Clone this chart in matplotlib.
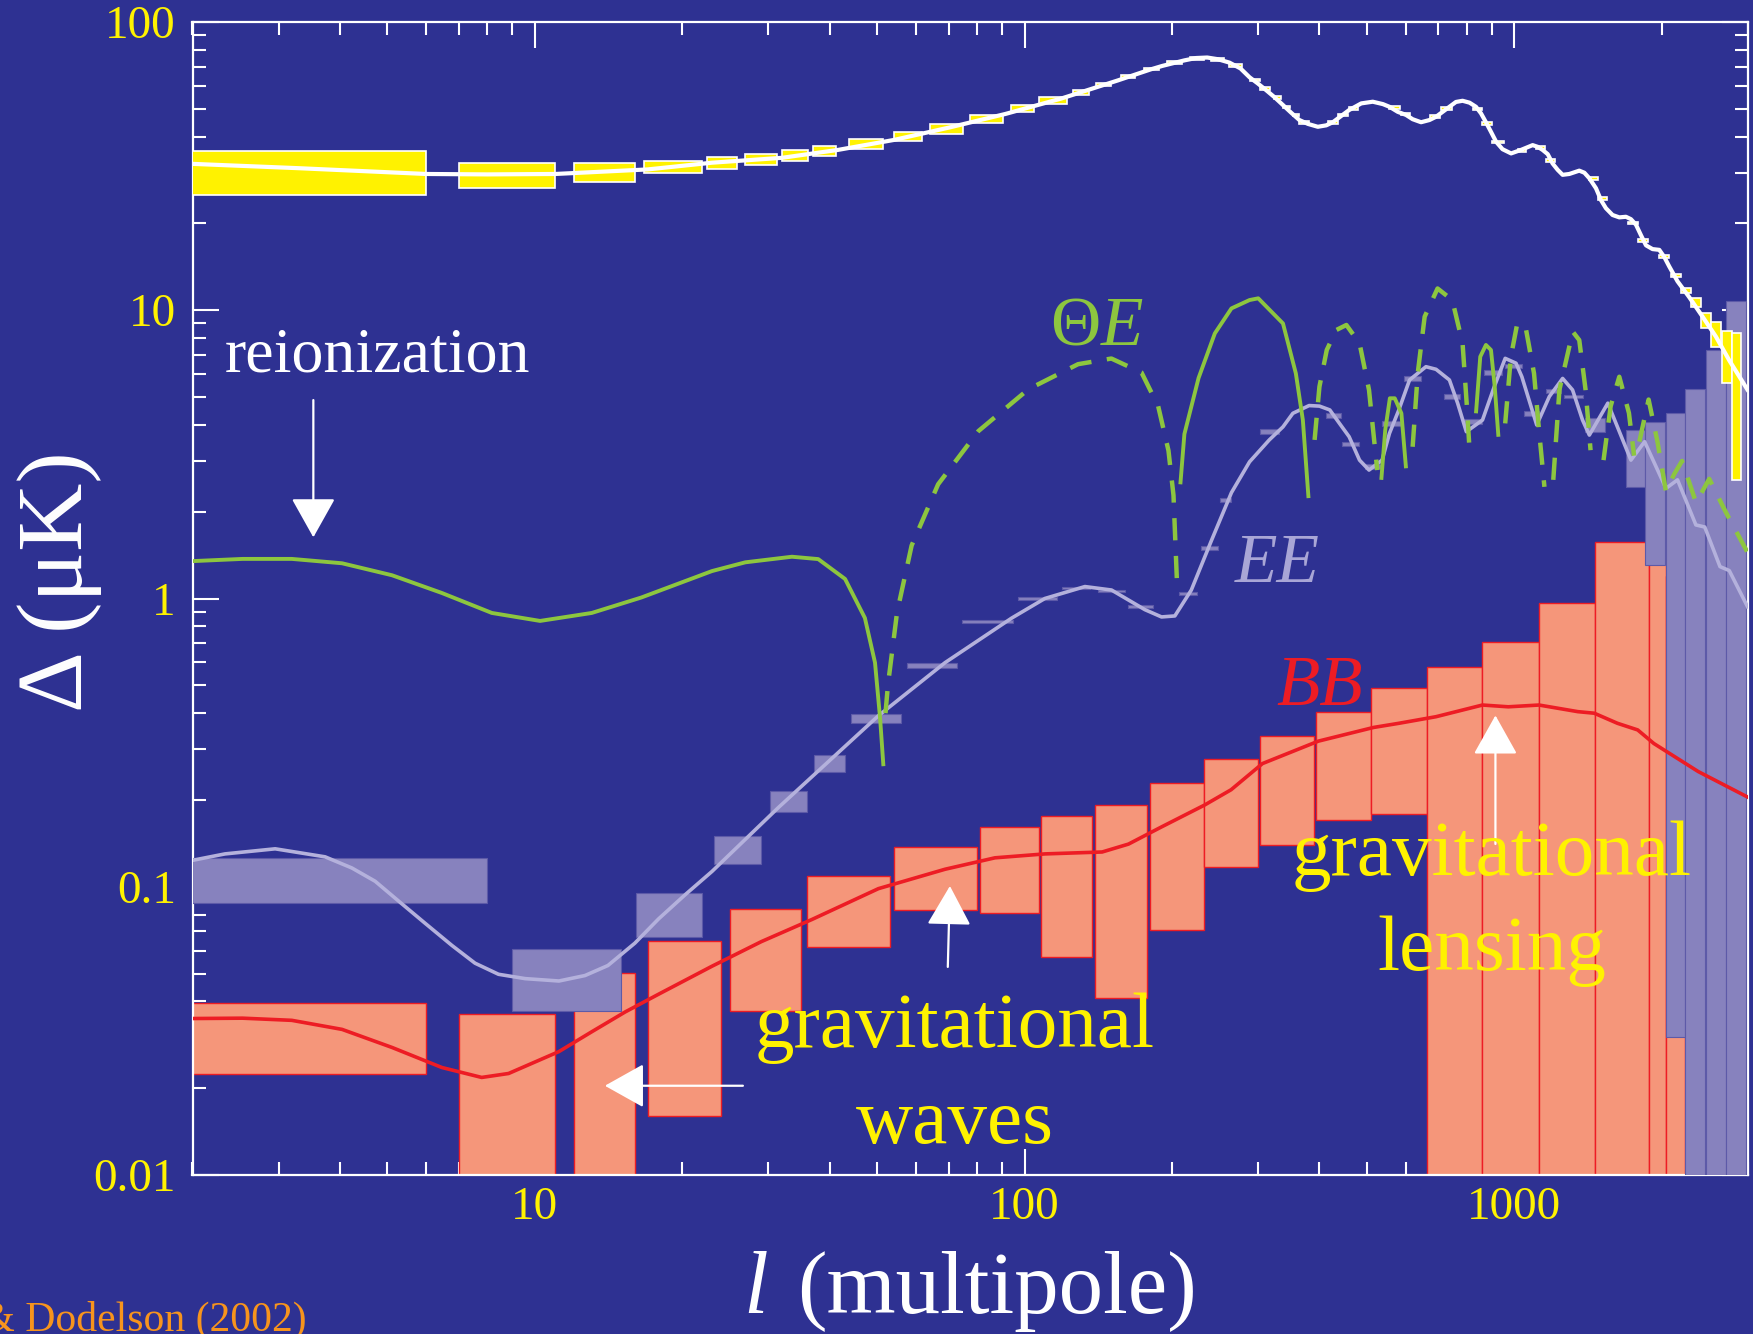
import matplotlib
matplotlib.use("Agg")
import matplotlib.pyplot as plt
from matplotlib.ticker import FixedLocator, FixedFormatter, LogLocator, NullFormatter

# ------------------------------------------------------------------ data
# TT (temperature) curve: multipole l, amplitude Delta (muK)
tt_l = [2.0, 3.3, 6.0, 8.0, 11, 17, 23, 32, 41.6, 54.2, 70.4, 91.5, 119, 155, 181, 191, 212,
        224, 236, 248, 262, 276, 288, 299, 311, 324, 337, 350, 364, 379, 397, 413, 426, 443,
        460, 487, 514, 539, 556, 578, 601, 620, 645, 671, 692, 714, 737, 760, 784, 810, 835,
        855, 875, 896, 918, 946, 985, 1032, 1090, 1116, 1142, 1170, 1197, 1226, 1255, 1295,
        1357, 1390, 1423, 1468, 1503, 1538, 1587, 1638, 1690, 1730, 1772, 1814, 1857, 1915,
        1977, 2024, 2071, 2154, 2276, 2423, 2580, 2747, 2993]
tt_D = [32.2, 31.1, 29.7, 29.6, 29.7, 30.8, 32.5, 33.8, 36.0, 39.0, 43.1, 48.0, 54.3, 62.7,
        68.5, 70.4, 73.6, 75.0, 75.3, 74.3, 72.3, 69.0, 64.3, 61.3, 58.1, 54.8, 51.5, 48.5,
        45.7, 44.3, 43.3, 43.8, 44.9, 47.2, 49.5, 52.2, 52.9, 51.9, 50.8, 48.8, 47.6, 46.0,
        44.9, 45.7, 46.9, 48.8, 50.8, 52.8, 53.3, 52.5, 50.8, 48.2, 44.9, 41.6, 38.4, 36.2,
        35.0, 36.0, 37.4, 36.9, 36.0, 34.8, 32.3, 30.7, 29.5, 29.7, 30.5, 30.0, 28.7, 26.5,
        24.1, 22.6, 21.4, 21.0, 21.1, 20.7, 19.8, 18.2, 16.8, 16.3, 16.2, 15.3, 14.2, 12.6,
        11.1, 9.5, 8.1, 6.7, 5.3]

# TT error boxes
tt_box_lo_l = [2, 7, 12, 16.7, 22.5, 26.8, 32.0, 36.9, 43.9, 54.2, 64.0, 77.4, 93.9, 107.1,
               125.5, 140, 157, 175, 195, 218, 240, 262, 288, 302, 323, 337, 354, 364, 416,
               436, 460, 556, 588, 673, 710, 822, 861, 902, 1018, 1108, 1160, 1423, 1479,
               1703, 1786, 1977, 2088, 2187, 2295, 2404, 2519, 2652, 2777]
tt_box_hi_l = [6, 11, 16, 21.9, 25.9, 31.2, 36.1, 41.2, 51.3, 61.6, 74.9, 90.5, 104.4, 122.2,
               135.6, 150, 168, 188, 210, 232, 255, 278, 302, 317, 334, 349, 363, 381, 436,
               457, 480, 583, 611, 705, 745, 861, 902, 951, 1055, 1154, 1208, 1479, 1548,
               1786, 1872, 2071, 2187, 2295, 2404, 2519, 2640, 2777, 2909]
tt_box_lo = [25.1, 26.5, 27.9, 29.9, 30.9, 31.8, 33.0, 34.2, 36.4, 38.7, 40.9, 44.7, 48.6, 52.0,
             55.6, 60.0, 64.0, 68.0, 71.5, 74.0, 73.5, 70.0, 62.3, 58.3, 54.0, 50.3, 47.1, 44.4,
             44.4, 47.1, 49.7, 50.1, 47.4, 46.4, 49.7, 49.4, 44.0, 38.0, 35.4, 36.2, 32.6, 28.4,
             24.1, 19.9, 17.3, 15.2, 13.0, 11.5, 10.3, 8.66, 7.47, 5.58, 2.58]
tt_box_hi = [35.7, 32.3, 32.3, 32.9, 33.9, 34.8, 36.0, 37.0, 39.2, 41.4, 44.1, 47.7, 51.4, 55.0,
             58.0, 61.5, 65.5, 69.5, 73.0, 75.5, 75.0, 71.5, 63.5, 59.5, 55.2, 51.3, 48.1, 45.4,
             45.4, 48.1, 50.7, 51.1, 48.4, 47.4, 50.7, 50.4, 45.0, 38.8, 36.2, 37.0, 33.4, 29.0,
             24.7, 20.3, 17.7, 15.6, 13.4, 11.9, 11.05, 9.76, 9.13, 8.47, 8.36]

# EE curve
ee_l = [2.0, 2.33, 2.95, 3.73, 4.23, 4.72, 5.27, 5.97, 6.77, 7.55, 8.43, 9.56, 11.2, 12.66, 14.1,
        16.0, 17.9, 20.3, 23.0, 31.4, 43.0, 50.3, 68.8, 94.1, 110, 132.8, 150.5, 176, 190.4,
        202.7, 219, 241, 264.5, 288, 316, 337, 353, 381, 400, 420, 439.5, 460, 483, 505, 537,
        556, 581, 611, 660, 692, 737, 766, 798, 861, 910, 958, 1008, 1036, 1111, 1179, 1255,
        1315, 1378, 1423, 1552, 1730, 1845, 2040, 2154, 2348, 2448, 2630, 2747, 2993]
ee_D = [0.1235, 0.130, 0.1354, 0.127, 0.1162, 0.1045, 0.0892, 0.0747, 0.0626, 0.0543, 0.0497,
        0.048, 0.0471, 0.0492, 0.0533, 0.0637, 0.0774, 0.094, 0.113, 0.188, 0.307, 0.392,
        0.599, 0.855, 1.0, 1.10, 1.07, 0.915, 0.863, 0.87, 1.07, 1.596, 2.33, 2.98, 3.55,
        3.94, 4.39, 4.67, 4.65, 4.51, 4.05, 3.64, 3.02, 2.79, 3.02, 3.74, 4.51, 5.73, 6.37,
        6.24, 5.73, 4.76, 3.79, 4.16, 5.43, 6.81, 6.55, 5.88, 4.0, 5.02, 5.80, 5.29, 4.16,
        3.69, 4.76, 3.02, 3.50, 2.41, 2.58, 1.80, 1.77, 1.29, 1.25, 0.937]

# EE error boxes
ee_box_lo_l = [2, 9, 16.1, 23.2, 30.2, 37.1, 44.2, 57.4, 74.5, 96.8, 119, 141, 163, 207, 229,
               251, 303, 412, 445, 495, 537, 594, 720, 790, 869, 955, 1047, 1161, 1262, 1397,
               1690, 1849, 2040, 2235, 2458, 2706]
ee_box_hi_l = [8, 15, 21.9, 29.0, 36.0, 43.0, 55.9, 72.8, 94.9, 116.7, 136, 160, 183, 225, 248,
               264, 331, 442, 482, 535, 588, 645, 776, 859, 942, 1036, 1124, 1243, 1384, 1528,
               1845, 2032, 2227, 2454, 2700, 2967]
ee_box_lo = [0.088, 0.037, 0.067, 0.120, 0.181, 0.251, 0.370, 0.573, 0.82, 0.99, 1.08, 1.05,
             0.93, 1.03, 1.47, 2.17, 3.72, 4.23, 3.37, 2.82, 3.98, 5.70, 4.93, 4.04, 5.98, 6.30,
             4.31, 5.17, 4.96, 3.79, 2.44, 1.31, 0.03, 0.005, 0.005, 0.005]
ee_box_hi = [0.126, 0.061, 0.095, 0.150, 0.215, 0.287, 0.396, 0.595, 0.84, 1.01, 1.10, 1.07,
             0.95, 1.05, 1.52, 2.23, 3.86, 4.39, 3.49, 2.92, 4.12, 5.90, 5.11, 4.18, 6.20, 6.52,
             4.47, 5.35, 5.10, 4.22, 3.84, 4.10, 4.39, 5.32, 7.28, 10.8]

# BB curve
bb_l = [2.0, 2.53, 3.19, 4.04, 5.11, 6.46, 7.79, 8.84, 11.2, 13.07, 15.3, 17.9, 23.0, 29.0, 36.8,
        50.3, 68.8, 87.0, 110, 144, 163, 190, 233, 264, 306, 398, 516, 581, 692, 861, 972,
        1123, 1348, 1456, 1624, 1786, 1927, 2374, 2990]
bb_D = [0.0349, 0.035, 0.0344, 0.032, 0.0277, 0.0236, 0.0218, 0.0225, 0.0268, 0.0314, 0.0368,
        0.0424, 0.053, 0.0645, 0.077, 0.0985, 0.115, 0.126, 0.130, 0.132, 0.1406, 0.161, 0.192,
        0.217, 0.2675, 0.32, 0.357, 0.369, 0.389, 0.427, 0.421, 0.427, 0.405, 0.40, 0.369,
        0.35, 0.314, 0.251, 0.205]

# BB error boxes
bb_box_lo_l = [2, 7, 12, 17, 25, 36, 54, 81, 108, 139, 180, 233, 303, 394, 510, 663, 861, 1121,
               1458, 1886, 2040]
bb_box_hi_l = [6, 11, 16, 24, 35, 53, 80, 107, 137, 178, 232, 300, 389, 510, 663, 861, 1121,
               1458, 1886, 2040, 2227]
bb_box_lo = [0.0224, 0.005, 0.005, 0.016, 0.037, 0.062, 0.083, 0.081, 0.057, 0.041, 0.071, 0.117,
             0.14, 0.171, 0.179, 0.005, 0.005, 0.005, 0.005, 0.005, 0.005]
bb_box_hi = [0.0395, 0.0362, 0.0504, 0.065, 0.084, 0.109, 0.137, 0.161, 0.176, 0.192, 0.229,
             0.277, 0.333, 0.403, 0.488, 0.577, 0.708, 0.962, 1.567, 2.0, 1.2]

# Theta-E cross spectrum |C|: segments, solid = positive, dashed = negative
te_segments = [
    ("solid", [2.0, 2.53, 3.19, 4.04, 5.11, 6.46, 8.17, 10.25, 13.07, 16.5, 23.0, 26.9, 33.5,
               37.9, 43.0, 47.2, 49.5, 50.7, 51.5],
              [1.348, 1.372, 1.372, 1.325, 1.204, 1.045, 0.891, 0.836, 0.891, 1.008, 1.245,
               1.335, 1.396, 1.37, 1.169, 0.856, 0.599, 0.384, 0.262]),
    ("dashed", [52.0, 52.6, 54.9, 58.8, 66.6, 80.5, 101.8, 128.6, 150.4, 173.3, 187.4, 196.7,
                201.4, 204.6],
               [0.40, 0.501, 0.894, 1.527, 2.49, 3.81, 5.32, 6.50, 6.80, 6.08, 4.65, 3.26,
                2.28, 1.169]),
    ("solid", [208, 212, 226.6, 244.6, 264.5, 288, 300, 337, 358, 370, 380],
              [2.49, 3.72, 5.82, 8.31, 10.15, 10.85, 11.0, 9.0, 6.04, 4.16, 2.23]),
    ("dashed", [391, 400, 414, 433, 454, 483, 505, 519, 525],
               [3.55, 5.43, 7.28, 8.54, 8.89, 7.68, 5.29, 3.36, 2.79]),
    ("solid", [535, 545, 557, 570, 588, 601],
              [2.58, 3.84, 4.95, 4.95, 4.39, 2.83]),
    ("dashed", [620, 635, 656, 697, 747, 784, 801, 810],
               [3.36, 6.04, 9.5, 11.9, 10.85, 7.68, 4.51, 3.3]),
    ("solid", [835, 852, 875, 896, 912, 928],
              [4.39, 6.90, 7.58, 7.28, 5.43, 3.64]),
    ("dashed", [958, 984, 1014, 1054, 1097, 1123, 1152],
               [4.05, 6.90, 9.0, 8.77, 6.04, 3.84, 2.44]),
    ("dashed", [1201, 1236, 1316, 1357, 1398, 1431],
               [2.58, 5.29, 8.43, 7.88, 5.29, 3.27]),
    ("dashed", [1521, 1573, 1638, 1714, 1756],
               [3.02, 4.65, 5.88, 4.4, 3.13]),
    ("dashed", [1800, 1880, 1960, 2040, 2120, 2200, 2350, 2500, 2700, 2990],
               [3.5, 4.9, 3.5, 2.35, 2.7, 3.0, 2.15, 2.6, 2.0, 1.45]),
]

x_ticks = [10, 100, 1000]
x_ticklabels = ["10", "100", "1000"]
y_ticks = [0.01, 0.1, 1, 10, 100]
y_ticklabels = ["0.01", "0.1", "1", "10", "100"]

# ------------------------------------------------------------------ style
BG = "#2e3192"
YELLOW = "#fff200"
ORANGE_BOX = "#f5967a"
RED = "#ed1c24"
LAV_BOX = "#8782be"
LAV_LINE = "#b4b1dc"
LAV_TEXT = "#a9a6d6"
GREEN = "#8dc63f"
CITE = "#f7941d"

plt.rcParams["font.family"] = ["Liberation Serif", "DejaVu Serif"]

W, H = 1753, 1334
fig = plt.figure(figsize=(W / 100, H / 100), dpi=100, facecolor=BG)
L, R, T, B = 192.5, 1748, 22, 1175
ax = fig.add_axes([L / W, (H - B) / H, (R - L) / W, (B - T) / H])
ax.set_facecolor(BG)
ax.set_xscale("log")
ax.set_yscale("log")
ax.set_xlim(2, 3000)
ax.set_ylim(0.01, 100)


def P(x, y):
    return (x / W, 1 - y / H)


def boxes(lo_l, hi_l, lo, hi, face, edge, lw, z):
    widths = [h - l for l, h in zip(lo_l, hi_l)]
    heights = [h - l for l, h in zip(lo, hi)]
    ax.bar(lo_l, heights, width=widths, bottom=lo, align="edge", color=face,
           edgecolor=edge, linewidth=lw, zorder=z)


boxes(bb_box_lo_l, bb_box_hi_l, bb_box_lo, bb_box_hi, ORANGE_BOX, RED, 1.0, 2)
boxes(ee_box_lo_l, ee_box_hi_l, ee_box_lo, ee_box_hi, LAV_BOX, "#5d5aa8", 0.8, 3)
boxes(tt_box_lo_l, tt_box_hi_l, tt_box_lo, tt_box_hi, YELLOW, "white", 1.2, 4)

ax.plot(bb_l, bb_D, color=RED, lw=2.6, zorder=5, solid_joinstyle="round")
ax.plot(ee_l, ee_D, color=LAV_LINE, lw=2.6, zorder=5, solid_joinstyle="round")
for style, ls_l, ls_D in te_segments:
    if style == "solid":
        ax.plot(ls_l, ls_D, color=GREEN, lw=2.8, zorder=6, solid_capstyle="butt",
                solid_joinstyle="round")
    else:
        ax.plot(ls_l, ls_D, color=GREEN, lw=3.2, zorder=6, dashes=(5, 3.5))
ax.plot(tt_l, tt_D, color="white", lw=3.0, zorder=7, solid_joinstyle="round")

# axes styling
for sp in ax.spines.values():
    sp.set_color("white")
    sp.set_linewidth(1.6)
ax.xaxis.set_major_locator(FixedLocator(x_ticks))
ax.xaxis.set_major_formatter(FixedFormatter(x_ticklabels))
ax.xaxis.set_minor_locator(LogLocator(base=10, subs=range(2, 10), numticks=20))
ax.xaxis.set_minor_formatter(NullFormatter())
ax.yaxis.set_major_locator(FixedLocator(y_ticks))
ax.yaxis.set_major_formatter(FixedFormatter(y_ticklabels))
ax.yaxis.set_minor_locator(LogLocator(base=10, subs=range(2, 10), numticks=20))
ax.yaxis.set_minor_formatter(NullFormatter())
ax.tick_params(which="both", direction="in", top=True, right=True, color="white",
               labelcolor=YELLOW, labelsize=34)
ax.tick_params(which="major", length=19, width=1.5)
ax.tick_params(which="minor", length=9.5, width=1.5)
ax.tick_params(axis="x", which="major", pad=8)
ax.tick_params(axis="y", which="major", pad=12)

# axis labels
fig.text(*P(60, 582), "\u0394 (\u03bcK)", rotation=90, ha="center", va="center",
         color="white", fontsize=68)
fig.text(*P(743, 1313), "l", ha="left", va="baseline", color="white", fontsize=64,
         style="italic")
fig.text(*P(797, 1313), "(multipole)", ha="left", va="baseline", color="white", fontsize=64)

# labels of curves
fig.text(*P(1050, 345), "\u0398", ha="left", va="baseline", color=GREEN, fontsize=50)
fig.text(*P(1101, 345), "E", ha="left", va="baseline", color=GREEN, fontsize=50,
         style="italic")
fig.text(*P(1277, 582), "EE", ha="center", va="baseline", color=LAV_TEXT, fontsize=50,
         style="italic")
fig.text(*P(1320, 705), "BB", ha="center", va="baseline", color=RED, fontsize=51,
         style="italic")

fig.text(*P(377, 371), "reionization", ha="center", va="baseline", color="white",
         fontsize=46)
fig.text(*P(955, 1047), "gravitational", ha="center", va="baseline", color=YELLOW,
         fontsize=57)
fig.text(*P(955, 1143), "waves", ha="center", va="baseline", color=YELLOW, fontsize=57)
fig.text(*P(1492, 875), "gravitational", ha="center", va="baseline", color=YELLOW,
         fontsize=57)
fig.text(*P(1492, 970), "lensing", ha="center", va="baseline", color=YELLOW, fontsize=57)

fig.text(*P(307, 1331), "Hu & Dodelson (2002)", ha="right", va="baseline", color=CITE,
         fontsize=30)

# arrows
arrow_kw = dict(arrowstyle="-|>,head_length=0.5,head_width=0.28", mutation_scale=50,
                lw=1.6, color="white", shrinkA=0, shrinkB=0)
ax.annotate("", xy=(3.53, 1.63), xytext=(3.53, 4.88), arrowprops=arrow_kw, zorder=9)
ax.annotate("", xy=(70.4, 0.1006), xytext=(69.7, 0.0527), arrowprops=arrow_kw, zorder=9)
ax.annotate("", xy=(13.9, 0.0204), xytext=(26.6, 0.0204), arrowprops=arrow_kw, zorder=9)
ax.annotate("", xy=(915, 0.393), xytext=(915, 0.1407), arrowprops=arrow_kw, zorder=9)

fig.savefig("out.png", dpi=100, facecolor=BG)
